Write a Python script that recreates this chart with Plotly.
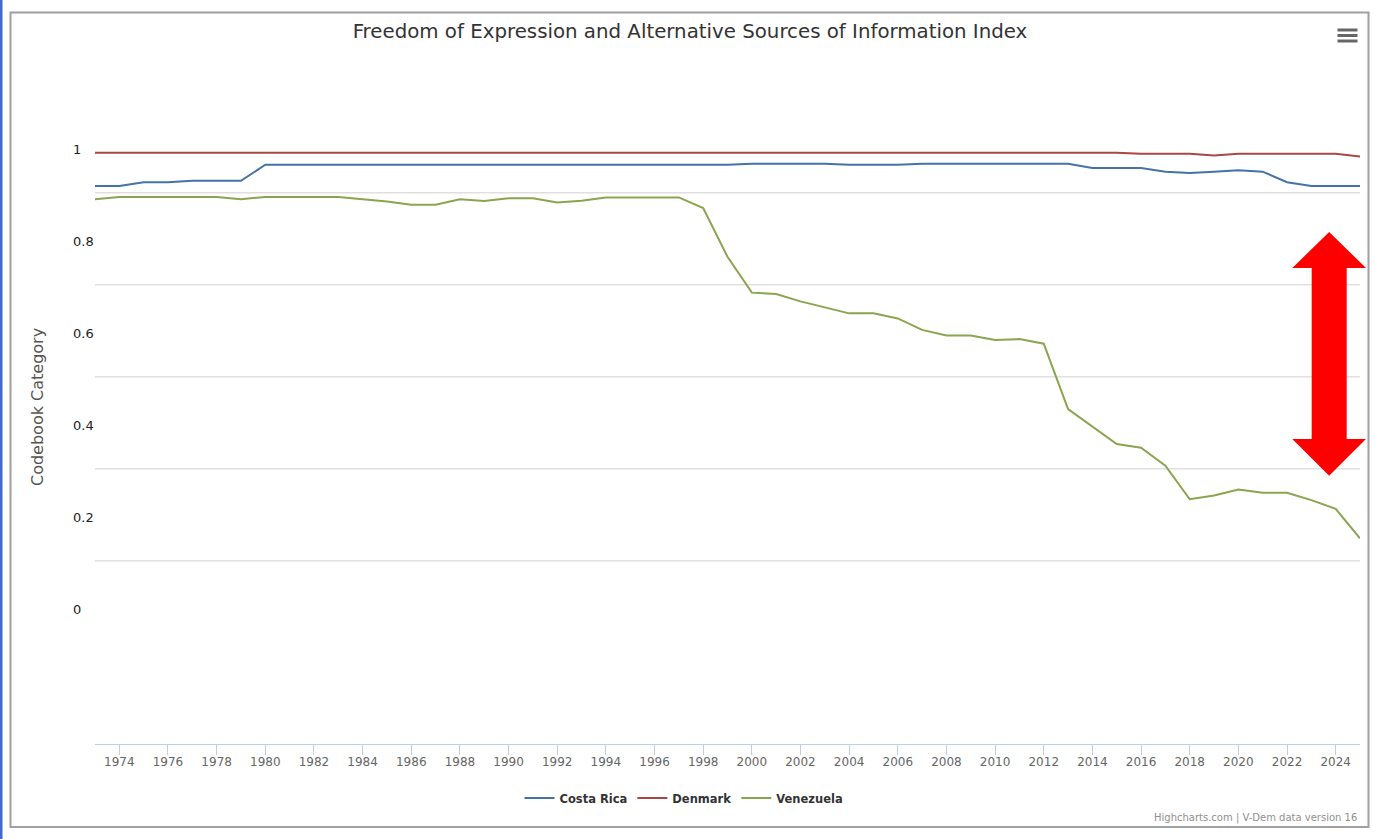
import plotly.graph_objects as go

# V-Dem freedom of expression index
years = list(range(1973, 2026))

costa_rica = [0.920, 0.920, 0.928, 0.928, 0.931, 0.931, 0.931] + [0.966] * 20 \
    + [0.968] * 4 + [0.966] * 3 + [0.968] * 7 \
    + [0.959, 0.959, 0.959, 0.951, 0.948, 0.951, 0.954, 0.951, 0.928, 0.920, 0.920, 0.920]

denmark = [0.992] * 43 + [0.990, 0.990, 0.990, 0.986, 0.990, 0.990, 0.990, 0.990, 0.990, 0.984]

venezuela = [0.891, 0.896, 0.896, 0.896, 0.896, 0.896, 0.891, 0.896, 0.896, 0.896,
             0.896, 0.891, 0.886, 0.879, 0.879, 0.891, 0.887, 0.893, 0.893, 0.884,
             0.888, 0.895, 0.895, 0.895, 0.895, 0.872, 0.766, 0.688, 0.685, 0.669,
             0.656, 0.643, 0.643, 0.632, 0.607, 0.595, 0.595, 0.585, 0.587, 0.577,
             0.435, 0.397, 0.359, 0.351, 0.312, 0.239, 0.247, 0.260, 0.253, 0.253,
             0.237, 0.218, 0.154]

series = {"Costa Rica": costa_rica, "Denmark": denmark, "Venezuela": venezuela}
colors = {"Costa Rica": "#4572A7", "Denmark": "#AA4643", "Venezuela": "#89A54E"}

y_ticks = [0, 0.2, 0.4, 0.6, 0.8, 1]
y_tick_text = ["0", "0.2", "0.4", "0.6", "0.8", "1"]
grid_vals = [0.105, 0.305, 0.505, 0.705, 0.905]   # highcharts grid sits off the labels
x_ticks = list(range(1974, 2025, 2))

W, H = 1380, 839
L, R, T, B = 95, 20, 110, 95


def px(x):
    return (x - L) / (W - L - R)


def py(y):
    return (H - B - y) / (H - T - B)


fig = go.Figure()
for name, vals in series.items():
    fig.add_trace(go.Scatter(x=years, y=vals, name=name, mode="lines",
                             line=dict(color=colors[name], width=2)))

shapes = []
for g in grid_vals:
    shapes.append(dict(type="line", xref="paper", yref="y", x0=0, x1=1, y0=g, y1=g,
                       line=dict(color="#d0d0d0", width=1), layer="below"))

# outer frame + blue page edge
shapes.append(dict(type="rect", xref="paper", yref="paper", x0=px(10.5), x1=px(1368.5),
                   y0=py(827), y1=py(12.5), line=dict(color="#a0a0a0", width=2)))
shapes.append(dict(type="rect", xref="paper", yref="paper", x0=px(0), x1=px(2.5),
                   y0=py(839), y1=py(0), line=dict(width=0), fillcolor="#3f6bd0"))

# menu icon
for yc in [30, 35.5, 41]:
    shapes.append(dict(type="rect", xref="paper", yref="paper", x0=px(1337.5), x1=px(1357.5),
                       y0=py(yc + 1.5), y1=py(yc - 1.5), line=dict(width=0), fillcolor="#666666"))

# red double arrow
ax = [1292.3, 1311.7, 1346.7, 1366]
ay = [232, 268, 439, 475.7]
cx = (ax[0] + ax[3]) / 2
pts = [(cx, ay[0]), (ax[3], ay[1]), (ax[2], ay[1]), (ax[2], ay[2]), (ax[3], ay[2]),
       (cx, ay[3]), (ax[0], ay[2]), (ax[1], ay[2]), (ax[1], ay[1]), (ax[0], ay[1])]
path = "M " + " L ".join(f"{px(a):.5f},{py(b):.5f}" for a, b in pts) + " Z"
shapes.append(dict(type="path", xref="paper", yref="paper", path=path,
                   fillcolor="#ff0000", line=dict(width=0)))

annotations = []
for v, t in zip(y_ticks, y_tick_text):
    annotations.append(dict(x=px(71), y=v, xref="paper", yref="y", text=t, showarrow=False,
                            xanchor="left", yanchor="middle",
                            font=dict(family="DejaVu Sans", size=13, color="#222222")))

annotations.append(dict(x=px(37), y=py(407), xref="paper", yref="paper",
                        text="Codebook Category", textangle=-90, showarrow=False,
                        xanchor="center", yanchor="middle",
                        font=dict(family="DejaVu Sans", size=16, color="#555555")))
annotations.append(dict(x=px(1359), y=py(818), xref="paper", yref="paper",
                        text="Highcharts.com | V-Dem data version 16", showarrow=False,
                        xanchor="right", yanchor="middle",
                        font=dict(family="DejaVu Sans", size=10, color="#909090")))

fig.update_layout(
    width=W, height=H,
    margin=dict(l=L, r=R, t=T, b=B),
    paper_bgcolor="white", plot_bgcolor="white",
    title=dict(text="Freedom of Expression and Alternative Sources of Information Index",
               x=0.5, xref="container", xanchor="center",
               y=1 - 31 / H, yref="container", yanchor="middle",
               font=dict(family="DejaVu Sans", size=19.8, color="#333333")),
    xaxis=dict(range=[1973, 2025], tickvals=x_ticks, showgrid=False, zeroline=False,
               showline=True, linecolor="#C0D0E0", linewidth=1,
               ticks="outside", ticklen=10, tickcolor="#C0D0E0", ticklabelstandoff=-3,
               tickfont=dict(family="DejaVu Sans", size=12, color="#666666")),
    yaxis=dict(range=[-0.293, 1.085], tickvals=y_ticks, showticklabels=False,
               showgrid=False, zeroline=False, showline=False),
    legend=dict(orientation="h", x=px(684), xanchor="center", y=py(798), yanchor="middle",
                font=dict(family="DejaVu Sans", size=11.5, color="#333333", weight="bold")),
    shapes=shapes,
    annotations=annotations,
    showlegend=True,
)

fig.write_html("out.html", config={"displayModeBar": False},
               post_script="document.body.style.margin='0';document.body.style.overflow='hidden';")
